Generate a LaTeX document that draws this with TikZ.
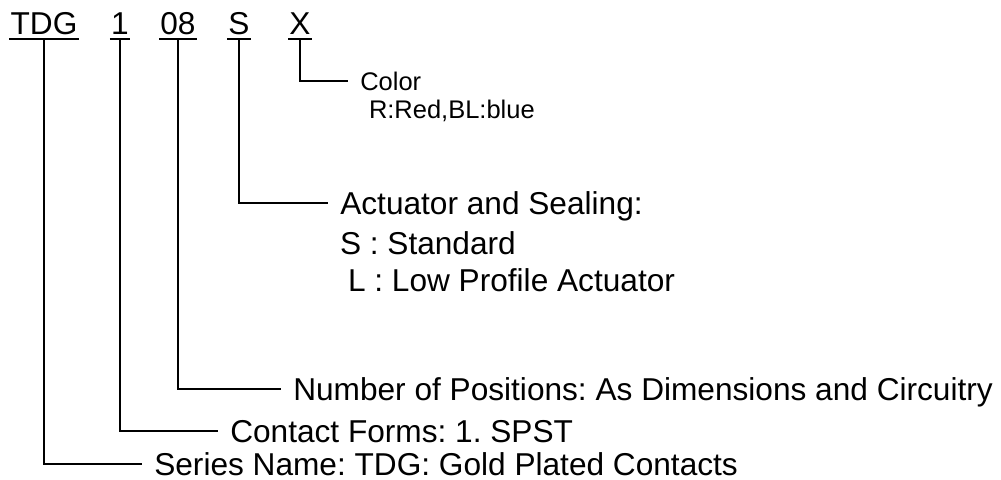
\documentclass[tikz,border=0pt]{standalone}
\usepackage{fontspec}
\setmainfont{Liberation Sans}
\usetikzlibrary{positioning}
\frenchspacing

\begin{document}
\begin{tikzpicture}
    [
        x=0.02cm, y=-0.02cm,
        code_node/.style={font=\fontsize{18}{21}\selectfont, anchor=base, inner xsep=0.6pt, inner ysep=0pt, text depth=0pt},
        desc_node/.style={font=\fontsize{18}{21}\selectfont, anchor=west, inner sep=0pt, outer xsep=7pt, text height=13.9pt, text depth=1pt},
        sub_node/.style={desc_node, outer xsep=0pt},
        small_node/.style={desc_node, font=\fontsize{14.5}{17}\selectfont, text height=11.4pt},
        link/.style={line width=0.9pt, color=black},
        uline/.style={line width=1.4pt, color=black},
    ]
        \useasboundingbox (0,0) rectangle (1001,480);
        % part number
        \node[code_node] (tdg) at (44,34) {TDG} ;
        \node[code_node] (one) at (120,34) {1} ;
        \node[code_node] (pos) at (178,34) {08} ;
        \node[code_node] (act) at (239,34) {S} ;
        \node[code_node] (col) at (300,34) {X} ;
        \foreach \n in {tdg, one, pos, act, col}
            \draw[uline] ([yshift=-2.7pt]\n.south west) -- ([yshift=-2.7pt]\n.south east) ;
        % descriptions
        \node[small_node] (col_d) at (348,81) {Color} ;
        \node[small_node, outer xsep=0pt, anchor=base west] (col_v) at (369,118) {R:Red,BL:blue} ;
        \node[desc_node] (act_d) at (328,203) {Actuator and Sealing:} ;
        \node[sub_node] (act_s) at (340,243) {S : Standard} ;
        \node[sub_node] (act_l) at (348,280) {L : Low Profile Actuator} ;
        \node[desc_node] (pos_d) at (281,389) {Number of Positions: As Dimensions and Circuitry} ;
        \node[desc_node] (one_d) at (218,431) {Contact Forms: 1. SPST} ;
        \node[desc_node] (tdg_d) at (142,464) {Series Name: TDG: Gold Plated Contacts} ;
        \draw[link] ([yshift=-2.7pt]col.south) |- (col_d.west) ;
        \draw[link] ([yshift=-2.7pt]act.south) |- (act_d.west) ;
        \draw[link] ([yshift=-2.7pt]pos.south) |- (pos_d.west) ;
        \draw[link] ([yshift=-2.7pt]one.south) |- (one_d.west) ;
        \draw[link] ([yshift=-2.7pt]tdg.south) |- (tdg_d.west) ;
\end{tikzpicture}
\end{document}
